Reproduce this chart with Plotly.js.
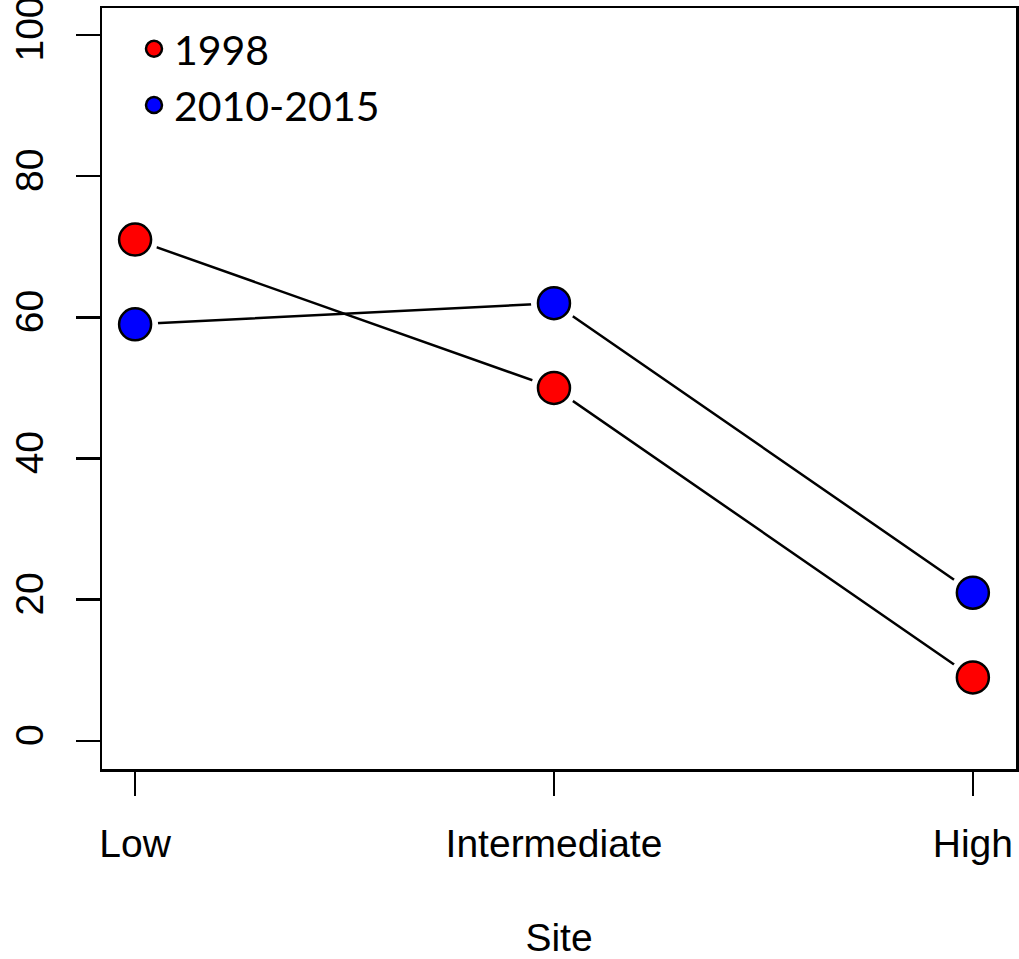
<!DOCTYPE html>
<html>
<head>
<meta charset="utf-8">
<script src="https://cdn.plot.ly/plotly-3.0.1.min.js"></script>
<style>html,body{margin:0;padding:0;background:#fff;}#chart{width:1019px;height:959px;}</style>
</head>
<body>
<div id="chart"></div>
<script>
const sites = ["Low", "Intermediate", "High"];
const seriesNames = ["1998", "2010-2015"];
const values1998 = [71, 50, 9];
const values2010 = [59, 62, 21];
const yTicks = [0, 20, 40, 60, 80, 100];

const xpos = sites.map((s, i) => i + 1);
const colors = ["#ff0000", "#0000ff"];
const allValues = [values1998, values2010];

const traces = [];
// connecting lines
allValues.forEach((v, k) => {
  traces.push({x: xpos, y: v, mode: "lines", line: {color: "#000", width: 2.5}, showlegend: false, hoverinfo: "skip"});
});
// white halos to create the gap between lines and points
allValues.forEach((v, k) => {
  traces.push({x: xpos, y: v, mode: "markers", marker: {color: "#fff", size: 46, line: {width: 0}}, showlegend: false, hoverinfo: "skip"});
});
// points
allValues.forEach((v, k) => {
  traces.push({x: xpos, y: v, mode: "markers", name: seriesNames[k],
    marker: {color: colors[k], size: 32, line: {color: "#000", width: 2.5}}, showlegend: true});
});

const layout = {
  width: 1019, height: 959,
  margin: {l: 102, r: 3, t: 8, b: 190},
  paper_bgcolor: "#fff", plot_bgcolor: "#fff",
  font: {family: "Liberation Sans, Arial, sans-serif", size: 39, color: "#000"},
  xaxis: {
    range: [0.921, 3.103], tickvals: xpos, ticktext: sites,
    showgrid: false, zeroline: false, showline: true, mirror: true, linecolor: "#000", linewidth: 2.5,
    ticks: "outside", ticklen: 24, tickwidth: 2.5, tickcolor: "#000",
    ticklabelstandoff: 15,
    tickfont: {size: 39, family: "Liberation Sans, Arial, sans-serif"},
    title: {text: "Site", font: {size: 39, family: "Liberation Sans, Arial, sans-serif"}, standoff: 60}
  },
  yaxis: {
    range: [-3.97, 103.8], tickvals: yTicks, ticktext: yTicks.map(String),
    showgrid: false, zeroline: false, showline: true, mirror: true, linecolor: "#000", linewidth: 2.5,
    ticks: "outside", ticklen: 24, tickwidth: 2.5, tickcolor: "#000",
    tickangle: -90, ticklabelstandoff: 17, ticklabeloverflow: "allow",
    tickfont: {size: 39, family: "Liberation Sans, Arial, sans-serif"}
  },
  legend: {
    x: 0.035, y: 0.99, xanchor: "left", yanchor: "top",
    bgcolor: "rgba(0,0,0,0)", borderwidth: 0,
    font: {family: "Lato, sans-serif", size: 41, color: "#000"},
    itemsizing: "trace"
  },
  showlegend: true
};

Plotly.newPlot("chart", traces, layout, {staticPlot: true});
</script>
</body>
</html>
